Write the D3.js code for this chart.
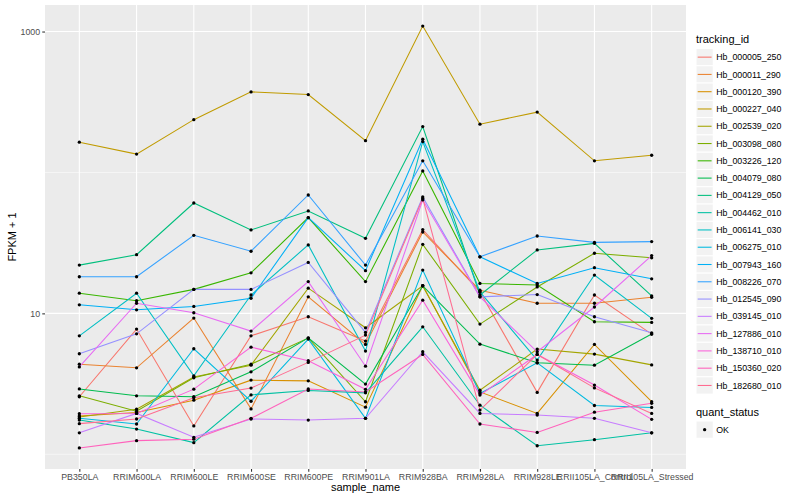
<!DOCTYPE html>
<html>
<head>
<meta charset="utf-8">
<script src="https://cdn.jsdelivr.net/npm/d3@7"></script>
<style>
  body { margin: 0; background: #ffffff; }
  text { font-family: "Liberation Sans", Arial, Helvetica, sans-serif; }
</style>
</head>
<body>
<svg id="chart" width="800" height="500"></svg>
<script>
// ---------------- data ----------------
const samples = ["PB350LA", "RRIM600LA", "RRIM600LE", "RRIM600SE", "RRIM600PE", "RRIM901LA",
                 "RRIM928BA", "RRIM928LA", "RRIM928LE", "RRII105LA_Control", "RRII105LA_Stressed"];

const trackingIds = ["Hb_000005_250", "Hb_000011_290", "Hb_000120_390", "Hb_000227_040", "Hb_002539_020",
                     "Hb_003098_080", "Hb_003226_120", "Hb_004079_080", "Hb_004129_050", "Hb_004462_010",
                     "Hb_006141_030", "Hb_006275_010", "Hb_007943_160", "Hb_008226_070", "Hb_012545_090",
                     "Hb_039145_010", "Hb_127886_010", "Hb_138710_010", "Hb_150360_020", "Hb_182680_010"];

// FPKM + 1, one array per tracking_id, in the order of `samples`
const Hb_000005_250 = [2.56, 7.74, 1.59, 6.93, 9.46, 6.36, 39.3, 14.2, 2.75, 13.5, 7.13];
const Hb_000011_290 = [4.36, 4.11, 9.26, 2.10, 13.1, 6.02, 37.8, 14.6, 11.8, 11.8, 13.0];
const Hb_000120_390 = [1.87, 1.98, 2.42, 3.36, 3.32, 2.16, 15.7, 2.77, 1.95, 6.02, 2.36];
const Hb_000227_040 = [164, 135, 237, 373, 357, 168, 1093, 220, 268, 121, 132.5];
const Hb_002539_020 = [1.84, 2.09, 3.54, 4.29, 15.1, 7.90, 15.7, 2.85, 5.58, 5.14, 4.31];
const Hb_003098_080 = [2.60, 2.02, 3.49, 4.36, 6.68, 2.36, 30.9, 8.39, 15.4, 26.7, 24.8];
const Hb_003226_120 = [13.9, 12.3, 14.8, 19.4, 47.8, 16.8, 102.5, 16.3, 15.9, 8.72, 8.63];
const Hb_004079_080 = [2.91, 2.60, 2.56, 3.85, 6.71, 3.15, 15.7, 6.05, 4.46, 4.29, 7.13];
const Hb_004129_050 = [22.0, 26.1, 60.7, 39.1, 53.3, 34.1, 211.5, 13.5, 28.2, 31.4, 13.3];
const Hb_004462_010 = [1.75, 1.51, 1.21, 2.64, 2.84, 2.73, 8.03, 2.23, 1.15, 1.27, 1.42];
const Hb_006141_030 = [6.93, 13.9, 3.60, 13.5, 30.6, 5.40, 165.5, 14.2, 4.66, 18.7, 9.22];
const Hb_006275_010 = [1.80, 1.64, 5.61, 2.38, 6.57, 1.80, 20.3, 2.70, 4.46, 2.22, 2.15];
const Hb_007943_160 = [11.5, 10.6, 11.2, 12.8, 47.8, 20.1, 172, 25.2, 16.3, 21.1, 17.6];
const Hb_008226_070 = [18.2, 18.2, 35.8, 27.6, 69.2, 22.0, 121, 25.2, 35.4, 31.9, 32.3];
const Hb_012545_090 = [5.17, 7.16, 14.8, 14.8, 23.0, 7.33, 67.0, 13.1, 13.6, 9.46, 7.28];
const Hb_039145_010 = [1.42, 1.95, 1.32, 1.78, 1.75, 1.80, 5.34, 1.95, 1.90, 1.80, 1.42];
const Hb_127886_010 = [4.17, 11.8, 10.1, 7.49, 16.8, 4.22, 63.8, 13.1, 5.34, 11.1, 25.7];
const Hb_138710_010 = [1.94, 1.95, 2.90, 5.76, 4.61, 2.89, 12.4, 2.63, 5.11, 3.10, 1.77];
const Hb_150360_020 = [1.11, 1.25, 1.28, 1.80, 2.91, 2.77, 5.11, 1.64, 1.43, 1.99, 2.30];
const Hb_182680_010 = [1.65, 1.78, 2.52, 2.95, 4.49, 7.01, 65.4, 2.06, 5.11, 2.96, 1.95];

const seriesValues = [Hb_000005_250, Hb_000011_290, Hb_000120_390, Hb_000227_040, Hb_002539_020,
                      Hb_003098_080, Hb_003226_120, Hb_004079_080, Hb_004129_050, Hb_004462_010,
                      Hb_006141_030, Hb_006275_010, Hb_007943_160, Hb_008226_070, Hb_012545_090,
                      Hb_039145_010, Hb_127886_010, Hb_138710_010, Hb_150360_020, Hb_182680_010];

const yMajorTicks = [10, 1000];
const yMinorTicks = [1, 100];
const quantStatus = ["OK"];

// ggplot2 default hue palette for 20 levels
const palette = ["#F8766D", "#EA8331", "#D89000", "#C09B00", "#A3A500", "#7CAE00", "#39B600", "#00BB4E",
                 "#00BF7D", "#00C1A3", "#00BFC4", "#00BAE0", "#00B0F6", "#35A2FF", "#9590FF", "#C77CFF",
                 "#E76BF3", "#FA62DB", "#FF62BC", "#FF6C91"];

// ---------------- layout ----------------
const panel = { left: 45, right: 686, top: 5, bottom: 469 };
const svg = d3.select("#chart");

const series = trackingIds.map((id, i) => ({
  id, color: palette[i],
  points: samples.map((s, j) => ({ sample: s, value: seriesValues[i][j] }))
}));

const allVals = seriesValues.flat();
const lo = Math.log10(d3.min(allVals)), hi = Math.log10(d3.max(allVals));
const pad = (hi - lo) * 0.05;

const x = d3.scalePoint().domain(samples).range([panel.left, panel.right]).padding(0.6);
const y = d3.scaleLog().domain([Math.pow(10, lo - pad), Math.pow(10, hi + pad)])
  .range([panel.bottom, panel.top]);

// panel background
svg.append("rect")
  .attr("x", panel.left).attr("y", panel.top)
  .attr("width", panel.right - panel.left).attr("height", panel.bottom - panel.top)
  .attr("fill", "#EBEBEB");

// grid
const grid = svg.append("g");
grid.selectAll(".ymin").data(yMinorTicks).join("line")
  .attr("x1", panel.left).attr("x2", panel.right)
  .attr("y1", d => y(d)).attr("y2", d => y(d))
  .attr("stroke", "#ffffff").attr("stroke-width", 0.55);
grid.selectAll(".ymaj").data(yMajorTicks).join("line")
  .attr("x1", panel.left).attr("x2", panel.right)
  .attr("y1", d => y(d)).attr("y2", d => y(d))
  .attr("stroke", "#ffffff").attr("stroke-width", 1.1);
grid.selectAll(".xmaj").data(samples).join("line")
  .attr("x1", d => x(d)).attr("x2", d => x(d))
  .attr("y1", panel.top).attr("y2", panel.bottom)
  .attr("stroke", "#ffffff").attr("stroke-width", 1.1);

// lines
const line = d3.line().x(d => x(d.sample)).y(d => y(d.value));
svg.append("g").selectAll("path").data(series).join("path")
  .attr("d", d => line(d.points))
  .attr("fill", "none")
  .attr("stroke", d => d.color)
  .attr("stroke-width", 1.07);

// points
svg.append("g").selectAll("g").data(series).join("g")
  .selectAll("circle").data(d => d.points).join("circle")
  .attr("cx", d => x(d.sample)).attr("cy", d => y(d.value))
  .attr("r", 1.65).attr("fill", "#000000");

// axes
const xAxis = d3.axisBottom(x).tickSize(2.75).tickPadding(2.2);
const gx = svg.append("g").attr("transform", `translate(0,${panel.bottom})`).call(xAxis);
gx.select(".domain").remove();
gx.selectAll(".tick line").attr("stroke", "#333333").attr("stroke-width", 1.07);
gx.selectAll(".tick text").attr("fill", "#4D4D4D").attr("font-size", 8.8)
  .attr("font-family", "'Liberation Sans', Arial, Helvetica, sans-serif");

const yAxis = d3.axisLeft(y).tickValues(yMajorTicks).tickFormat(d3.format("d")).tickSize(2.75).tickPadding(2.2);
const gy = svg.append("g").attr("transform", `translate(${panel.left},0)`).call(yAxis);
gy.select(".domain").remove();
gy.selectAll(".tick line").attr("stroke", "#333333").attr("stroke-width", 1.07);
gy.selectAll(".tick text").attr("fill", "#4D4D4D").attr("font-size", 8.8)
  .attr("font-family", "'Liberation Sans', Arial, Helvetica, sans-serif");

// axis titles
svg.append("text")
  .attr("x", (panel.left + panel.right) / 2).attr("y", 491)
  .attr("text-anchor", "middle").attr("font-size", 11).attr("fill", "#000")
  .text("sample_name");
svg.append("text")
  .attr("transform", `translate(16,${(panel.top + panel.bottom) / 2}) rotate(-90)`)
  .attr("text-anchor", "middle").attr("font-size", 11).attr("fill", "#000")
  .text("FPKM + 1");

// legend: tracking_id
const keySize = 17.28;
const lgX = 696;
const lg = svg.append("g");
lg.append("text").attr("x", lgX).attr("y", 43).attr("font-size", 11).attr("fill", "#000").text("tracking_id");
const keys = lg.selectAll("g.key").data(series).join("g")
  .attr("transform", (d, i) => `translate(${lgX},${48.5 + i * keySize})`);
keys.append("rect").attr("width", keySize).attr("height", keySize)
  .attr("fill", "#F2F2F2").attr("stroke", "#ffffff").attr("stroke-width", 1);
keys.append("line").attr("x1", 1.7).attr("x2", keySize - 1.7)
  .attr("y1", keySize / 2).attr("y2", keySize / 2)
  .attr("stroke", d => d.color).attr("stroke-width", 1.07);
keys.append("text").attr("x", keySize + 3).attr("y", keySize / 2 + 3.1)
  .attr("font-size", 8.8).attr("fill", "#000").text(d => d.id);

// legend: quant_status
const lq = svg.append("g");
lq.append("text").attr("x", lgX).attr("y", 416).attr("font-size", 11).attr("fill", "#000").text("quant_status");
const qk = lq.selectAll("g.qkey").data(quantStatus).join("g")
  .attr("transform", (d, i) => `translate(${lgX},${421 + i * keySize})`);
qk.append("rect").attr("width", keySize).attr("height", keySize)
  .attr("fill", "#F2F2F2").attr("stroke", "#ffffff").attr("stroke-width", 1);
qk.append("circle").attr("cx", keySize / 2).attr("cy", keySize / 2).attr("r", 1.65).attr("fill", "#000");
qk.append("text").attr("x", keySize + 3).attr("y", keySize / 2 + 3.1)
  .attr("font-size", 8.8).attr("fill", "#000").text(d => d);
</script>
</body>
</html>
